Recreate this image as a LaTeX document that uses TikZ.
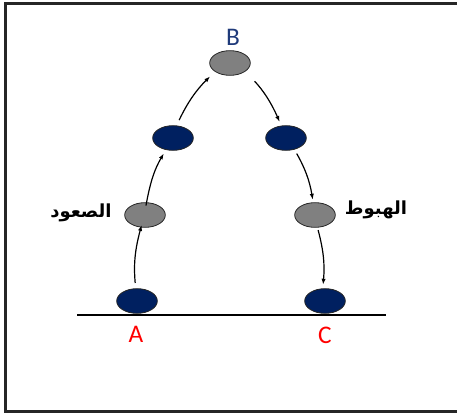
\documentclass[tikz,border=0pt]{standalone}
\usepackage{fontspec}
\setmainfont{Carlito}
\newfontfamily\arabicfont[Script=Arabic]{DejaVu Sans}
\TeXXeTstate=1
\usetikzlibrary{shapes.geometric,arrows.meta}
\definecolor{navyball}{HTML}{002060}
\definecolor{grayball}{HTML}{808080}
\definecolor{labelred}{HTML}{FF0000}
\definecolor{labelblue}{HTML}{1F3A7A}
\begin{document}
\begin{tikzpicture}[x=0.75pt,y=-0.75pt,
  ball/.style={ellipse,draw=black!85,line width=0.6pt,minimum width=30.5pt,minimum height=18.5pt,inner sep=0pt},
  navy/.style={ball,fill=navyball},
  grey/.style={ball,fill=grayball},
  move/.style={-{Latex[length=4.5pt,width=3.2pt]},line width=0.9pt,bend left=10},
  pt/.style={font=\fontsize{19}{21}\selectfont,inner sep=0pt},
  ar/.style={font=\arabicfont\bfseries\fontsize{13.5}{15}\selectfont,inner sep=0pt}]
\useasboundingbox (0,0) rectangle (457,414);
\draw[line width=1.6pt,black!85] (5.5,3.5) rectangle (460,411.5);
\coordinate (gl) at (77,315);
\coordinate (gr) at (386,315);
\draw[line width=1.6pt] (gl) -- (gr);
\node[navy] (A) at (137,301) {};
\node[grey] (lg) at (145,215) {};
\node[navy] (ln) at (173,138) {};
\node[grey] (B) at (230,63) {};
\node[navy] (rn) at (286,138) {};
\node[grey] (rg) at (315,215) {};
\node[navy] (C) at (325,301) {};
\node[pt,text=labelred] (lA) at (136,334) {A};
\node[pt,text=labelblue] (lB) at (233,37) {B};
\node[pt,text=labelred] (lC) at (325,335) {C};
\node[ar] (asc) at (81,213) {\beginR الصعود\endR};
\node[ar] (desc) at (376,210) {\beginR الهبوط\endR};
\draw[move,shorten <=4pt,shorten >=-2pt] (A.96) to (lg.252);
\draw[move,shorten <=-2.5pt,shorten >=3pt] (lg.83) to (ln.239);
\draw[move,shorten <=4.4pt,shorten >=5pt] (ln.74) to (B.210);
\draw[move,shorten <=10pt,shorten >=3pt] (B.331) to (rn.111);
\draw[move,shorten <=3.4pt,shorten >=1.9pt] (rn.306) to (rg.98);
\draw[move,shorten <=1.9pt,shorten >=2.7pt] (rg.281) to (C.100);
\end{tikzpicture}
\end{document}
